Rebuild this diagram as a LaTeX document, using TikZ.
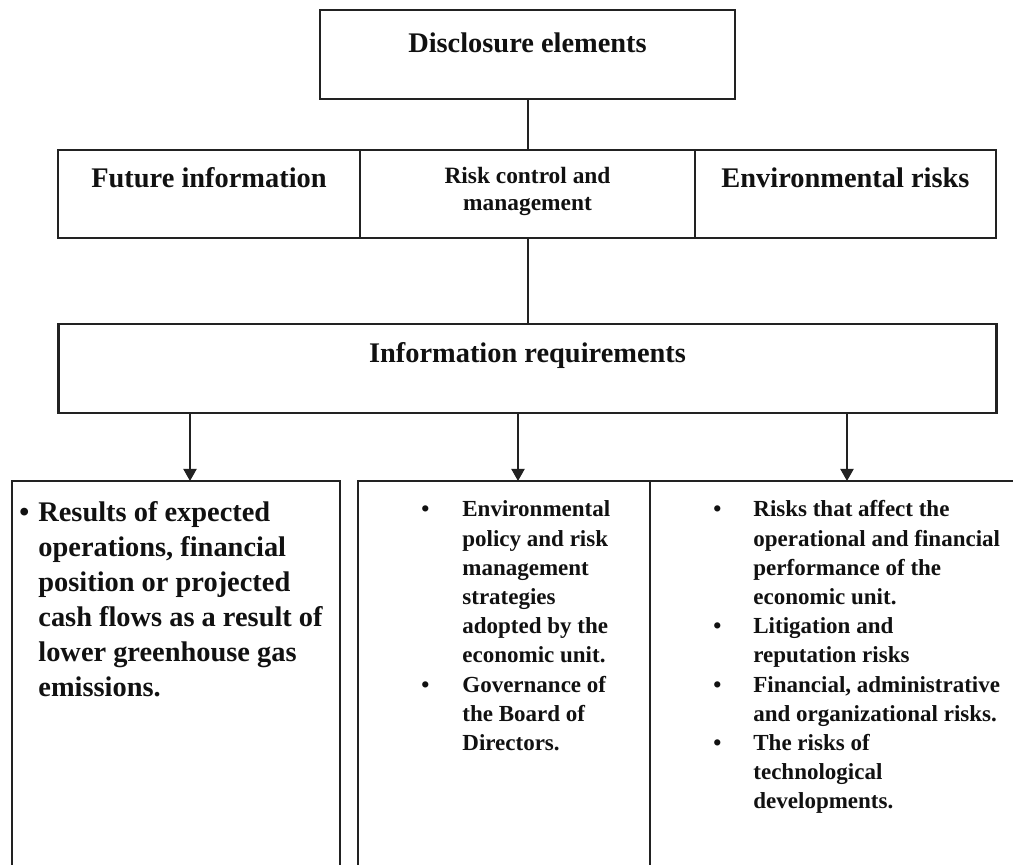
\documentclass[tikz,border=0pt]{standalone}
\usepackage{fontspec}
\setmainfont{Liberation Serif}
\usetikzlibrary{arrows.meta,positioning,calc}
\definecolor{ink}{HTML}{111111}
\definecolor{frame}{HTML}{222222}

\begin{document}
\begin{tikzpicture}[
  x=0.5pt, y=0.5pt, color=ink,
  box/.style={draw=frame, line width=1.3pt, inner sep=0pt, outer sep=0pt},
  hdr/.style={font=\fontsize{14.2}{17}\selectfont\bfseries, inner sep=0pt, anchor=base},
  sub/.style={font=\fontsize{11.7}{13.5}\selectfont\bfseries, inner sep=0pt, align=center},
  blist/.style={inner sep=0pt, anchor=base west},
  link/.style={line width=1pt, color=frame},
  arr/.style={-{Triangle[length=6pt, width=6.5pt]}, line width=1pt, color=frame},
]
\useasboundingbox (0,0) rectangle (1013,-865);
\clip (0,0) rectangle (1013,-865);

% ---- top box ----
\node[box, minimum width=207.5pt, minimum height=44.5pt] (top) at (527.5,-54.5) {};
\node[hdr] (topL) at ($(top.north)+(0,-43)$) {Disclosure elements};

% ---- middle row, three cells side by side ----
\node[box, minimum width=167.5pt, minimum height=44pt] (risk) at (527.5,-194) {};
\node[box, minimum width=151pt, minimum height=44pt, left=0pt of risk] (fut) {};
\node[box, minimum width=150.5pt, minimum height=44pt, right=0pt of risk] (env) {};
\node[hdr] (futL) at ($(fut.north)+(0,-38)$) {Future information};
\node[sub] (riskL) at ($(risk.north)+(0,-41)$) {Risk control and\\management};
\node[hdr] (envL) at ($(env.north)+(0,-38)$) {Environmental risks};

% ---- requirements box ----
\node[box, minimum width=469pt, minimum height=44.5pt] (info) at (527.5,-368.5) {};
\node[hdr] (infoL) at ($(info.north)+(0,-39)$) {Information requirements};

\draw[link] (top) -- (risk);
\draw[link] (risk) -- (info);

% ---- bottom boxes (run off the page) ----
\node[box, minimum width=164pt, minimum height=209.5pt] (b1) at (176,-690.5) {};
\node[box, minimum width=146pt, minimum height=209.5pt] (b2) at (504,-690.5) {};
\node[box, minimum width=195pt, minimum height=209.5pt, right=0pt of b2] (b3) {};

\coordinate (t1) at ($(b1.north)+(14,0)$);
\coordinate (t2) at ($(b2.north)+(14,0)$);
\coordinate (t3) at ($(b3.north)+(2,0)$);
\draw[arr] (info.south -| t1) -- (t1);
\draw[arr] (info.south -| t2) -- (t2);
\draw[arr] (info.south -| t3) -- (t3);

% ---- lists ----
\node[blist, font=\fontsize{14.2}{17.5}\selectfont\bfseries] (b1L)
  at ($(b1.north west)+(7,-41)$) {\begin{tabular}[t]{@{}p{9.5pt}@{}l@{}}
  \textbullet & Results of expected\\
   & operations, financial\\
   & position or projected\\
   & cash flows as a result of\\
   & lower greenhouse gas\\
   & emissions.
  \end{tabular}};
\node[blist, font=\fontsize{11.5}{14.6}\selectfont\bfseries] (b2L)
  at ($(b2.north west)+(63,-36)$) {\begin{tabular}[t]{@{}p{20.5pt}@{}l@{}}
  \textbullet & Environmental\\
   & policy and risk\\
   & management\\
   & strategies\\
   & adopted by the\\
   & economic unit.\\
  \textbullet & Governance of\\
   & the Board of\\
   & Directors.
  \end{tabular}};
\node[blist, font=\fontsize{11.5}{14.6}\selectfont\bfseries] (b3L)
  at ($(b3.north west)+(63,-36)$) {\begin{tabular}[t]{@{}p{20pt}@{}l@{}}
  \textbullet & Risks that affect the\\
   & operational and financial\\
   & performance of the\\
   & economic unit.\\
  \textbullet & Litigation and\\
   & reputation risks\\
  \textbullet & Financial, administrative\\
   & and organizational risks.\\
  \textbullet & The risks of\\
   & technological\\
   & developments.
  \end{tabular}};
\end{tikzpicture}
\end{document}
